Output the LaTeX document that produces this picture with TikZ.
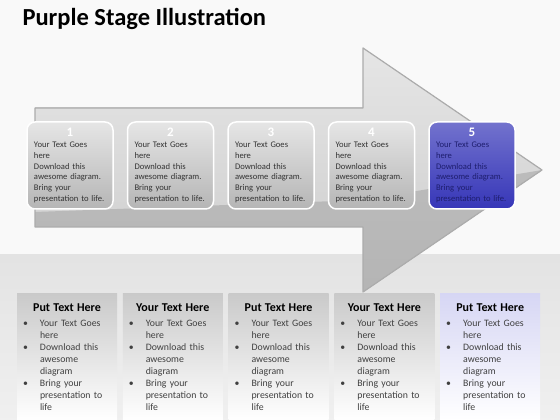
\documentclass[tikz,border=0pt]{standalone}
\usepackage{fontspec}
\setmainfont{Carlito}
\usepackage{tikz}
\usetikzlibrary{calc}
\definecolor{stageblue}{HTML}{3636B8}
\definecolor{stagenavy}{HTML}{1E1E6E}
\definecolor{panellav}{HTML}{D6D6F4}
\tikzset{
	stage/.style = {rectangle, rounded corners=8pt, minimum width=86pt, minimum height=87pt, text width=72pt, align=left, draw=white, line width=1.5pt, top color=gray!20, bottom color=gray!58, text=black!80, font=\fontsize{8.6}{10.7}\selectfont},
	bstage/.style = {stage, top color=stageblue!70, bottom color=stageblue, text=stagenavy},
	panel/.style = {rectangle, minimum width=100pt, minimum height=127pt, anchor=north, top color=gray!42, bottom color=white},
	lavpanel/.style = {rectangle, minimum width=100pt, minimum height=127pt, anchor=north, top color=panellav, bottom color=white},
	ptext/.style = {anchor=north, text width=94pt, align=left, text=black!75, font=\fontsize{9.8}{12}\selectfont}
}
\newcommand{\stagetext}[1]{\makebox[\linewidth]{\bfseries\color{white}\fontsize{13}{11}\selectfont #1}\\Your Text Goes\\here\\Download this\\awesome diagram.\\Bring your\\presentation to life.}
\newcommand{\bul}[1]{\hspace*{3pt}\makebox[17pt][l]{\textbullet}#1}
\newcommand{\ind}[1]{\hspace*{20pt}#1}
\newcommand{\paneltext}[1]{\makebox[\linewidth]{\color{black}\bfseries\fontsize{12}{12}\selectfont #1}\\[3pt]\bul{Your Text Goes}\\\ind{here}\\\bul{Download this}\\\ind{awesome}\\\ind{diagram}\\\bul{Bring your}\\\ind{presentation to}\\\ind{life}}

\begin{document}
\begin{tikzpicture}[x=1pt, y=1pt, node distance=100.5pt]
	\useasboundingbox (0,0) rectangle (560,420);
	\fill[gray!5] (0,165) rectangle (560,420);
	\fill[top color=gray!22, bottom color=gray!12] (0,0) rectangle (560,165);
	\node (title) [anchor=base west, font=\fontsize{24.5}{24}\selectfont\bfseries] at (19,394) {Purple Stage Illustration};
	% big arrow
	\fill[top color=gray!20, bottom color=gray!40] (35,312) -- (363,312) -- (363,372) -- (542,250) -- (363,128) -- (363,193) -- (35,193) -- cycle;
	\begin{scope}
		\clip (35,312) -- (363,312) -- (363,372) -- (542,250) -- (363,128) -- (363,193) -- (35,193) -- cycle;
		\fill[gray!75, opacity=0.5] (35,208) -- (363,220) -- (542,250) -- (560,100) -- (0,100) -- cycle;
	\end{scope}
	\draw[gray!65, line width=1.2pt, line join=round] (35,312) -- (363,312) -- (363,372) -- (542,250) -- (363,128) -- (363,193) -- (35,193) -- cycle;
	% stages
	\node (s1) [stage] at (70,254.5) {\stagetext{1}};
	\node (s2) [stage, right of=s1] {\stagetext{2}};
	\node (s3) [stage, right of=s2] {\stagetext{3}};
	\node (s4) [stage, right of=s3] {\stagetext{4}};
	\node (s5) [bstage, right of=s4] {\stagetext{5}};
	% panels
	\node (p1) [panel] at (67,127) {};
	\node (p2) [panel, right of=p1, xshift=5.3pt] {};
	\node (p3) [panel, right of=p2, xshift=5.3pt] {};
	\node (p4) [panel, right of=p3, xshift=5.3pt] {};
	\node (p5) [lavpanel, right of=p4, xshift=5.3pt] {};
	\node (t1) [ptext] at ($(p1.north)+(0,-7)$) {\paneltext{Put Text Here}};
	\node (t2) [ptext] at ($(p2.north)+(0,-7)$) {\paneltext{Your Text Here}};
	\node (t3) [ptext] at ($(p3.north)+(0,-7)$) {\paneltext{Put Text Here}};
	\node (t4) [ptext] at ($(p4.north)+(0,-7)$) {\paneltext{Your Text Here}};
	\node (t5) [ptext] at ($(p5.north)+(0,-7)$) {\paneltext{Put Text Here}};
\end{tikzpicture}
\end{document}
